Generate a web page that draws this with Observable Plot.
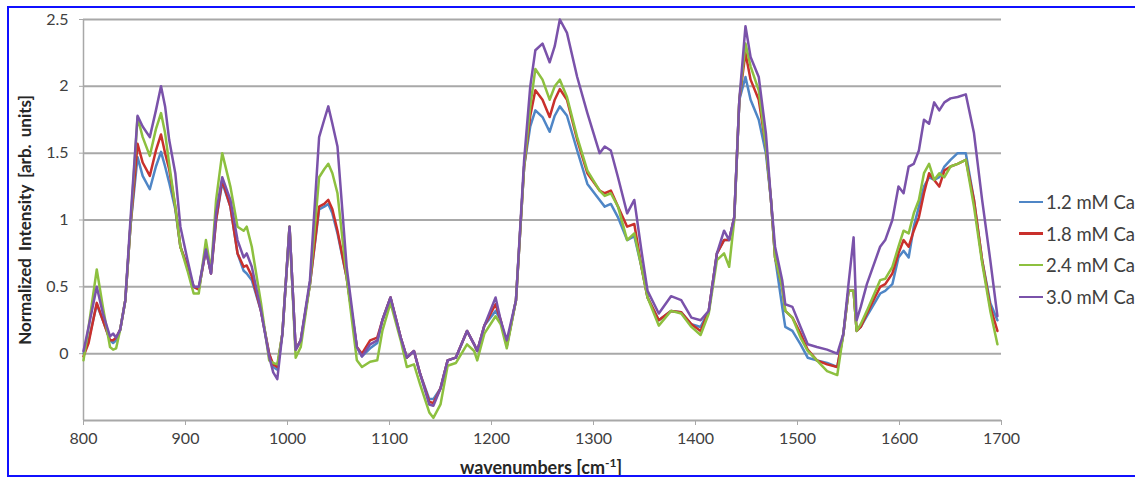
<!DOCTYPE html>
<html>
<head>
<meta charset="utf-8">
<script src="https://cdn.jsdelivr.net/npm/d3@7"></script>
<script src="https://cdn.jsdelivr.net/npm/@observablehq/plot@0.6"></script>
<style>
  html, body { margin: 0; padding: 0; background: #fff; overflow: hidden; }
  #wrap { position: relative; width: 1135px; height: 482px; overflow: hidden; font-family: Lato, "Open Sans", sans-serif; }
  #border { position: absolute; left: 7px; top: 6px; width: 1150px; height: 471px; border: 2px solid #1010ff; box-sizing: border-box; pointer-events: none; }
  #chart { position: absolute; left: 0; top: 0; }
  .title { position: absolute; font-weight: bold; color: #262626; white-space: nowrap; }
  #ytitle { left: 24px; top: 220px; font-size: 17px; transform: translate(-50%, -50%) rotate(-90deg); word-spacing: 3px; }
  #xtitle { left: 541px; top: 466px; font-size: 18px; transform: translate(-50%, -50%); }
  #legend { position: absolute; left: 1019px; top: 186px; }
  .item { display: flex; align-items: center; height: 31.7px; font-size: 18.5px; color: #404040; white-space: nowrap; }
  .sw { width: 24px; height: 2.5px; margin-right: 3px; }
</style>
</head>
<body>
<div id="wrap">
  <div id="chart"></div>
  <div id="ytitle" class="title">Normalized Intensity [arb. units]</div>
  <div id="xtitle" class="title">wavenumbers [cm<sup style="font-size:12px">-1</sup>]</div>
  <div id="legend"></div>
  <div id="border"></div>
</div>
<script>
const seriesNames = ["1.2 mM Ca", "1.8 mM Ca", "2.4 mM Ca", "3.0 mM Ca"];
const seriesColors = ["#4f86c6", "#c9302c", "#8dc03f", "#7a52aa"];
const xTicks = [800, 900, 1000, 1100, 1200, 1300, 1400, 1500, 1600, 1700];
const yTicks = [0, 0.5, 1, 1.5, 2, 2.5];
const yGrid = [-0.5, 0, 0.5, 1, 1.5, 2, 2.5];

const wn = [800,805,813,819,826,829,832,836,841,846,853,858,865,871,876,880,884,890,895,902,908,913,920,925,930,936,944,951,957,960,965,974,982,986,990,995,1002,1008,1013,1022,1031,1036,1040,1044,1049,1058,1068,1073,1081,1088,1093,1101,1111,1117,1124,1130,1139,1143,1150,1157,1165,1176,1183,1186,1193,1204,1209,1215,1224,1232,1238,1243,1250,1257,1262,1267,1274,1284,1294,1306,1311,1317,1324,1333,1340,1347,1353,1364,1376,1386,1396,1405,1413,1421,1428,1433,1438,1443,1449,1454,1462,1469,1474,1478,1485,1488,1495,1503,1510,1519,1529,1539,1545,1550,1555,1558,1562,1568,1581,1586,1593,1599,1604,1609,1614,1619,1624,1629,1634,1639,1644,1650,1657,1665,1673,1681,1689,1696];

const ca12 = [0.00,0.10,0.37,0.25,0.10,0.08,0.10,0.18,0.40,0.95,1.47,1.33,1.23,1.40,1.51,1.40,1.28,1.08,0.80,0.65,0.50,0.48,0.78,0.60,1.00,1.28,1.10,0.75,0.62,0.60,0.55,0.32,0.00,-0.10,-0.12,0.15,0.95,0.03,0.10,0.52,1.08,1.10,1.12,1.05,0.90,0.57,0.05,-0.02,0.04,0.08,0.25,0.42,0.12,-0.03,0.02,-0.15,-0.34,-0.34,-0.26,-0.05,-0.03,0.17,0.07,0.02,0.21,0.32,0.25,0.06,0.40,1.40,1.70,1.82,1.77,1.66,1.78,1.85,1.78,1.52,1.27,1.15,1.10,1.12,1.02,0.85,0.88,0.65,0.42,0.25,0.32,0.31,0.22,0.20,0.32,0.75,0.85,0.85,1.02,1.90,2.07,1.90,1.75,1.50,1.15,0.72,0.35,0.20,0.17,0.07,-0.03,-0.05,-0.07,-0.10,0.15,0.47,0.47,0.17,0.20,0.28,0.45,0.47,0.52,0.72,0.77,0.72,0.95,1.10,1.25,1.32,1.30,1.32,1.40,1.45,1.50,1.50,1.15,0.70,0.38,0.25];

const ca18 = [-0.02,0.08,0.38,0.25,0.10,0.10,0.12,0.18,0.40,0.95,1.57,1.43,1.33,1.52,1.64,1.50,1.38,1.10,0.80,0.65,0.50,0.48,0.78,0.60,1.00,1.30,1.10,0.75,0.65,0.66,0.58,0.32,0.00,-0.08,-0.10,0.15,0.95,0.03,0.10,0.52,1.10,1.12,1.15,1.08,0.92,0.57,0.05,0.00,0.10,0.12,0.25,0.42,0.12,-0.03,0.02,-0.15,-0.36,-0.37,-0.26,-0.05,-0.03,0.17,0.07,0.02,0.21,0.37,0.25,0.06,0.40,1.40,1.78,1.97,1.90,1.77,1.90,1.98,1.90,1.60,1.35,1.22,1.20,1.22,1.10,0.95,0.97,0.65,0.42,0.25,0.32,0.31,0.22,0.17,0.32,0.75,0.85,0.85,1.02,1.90,2.25,2.05,1.90,1.55,1.15,0.72,0.50,0.32,0.27,0.15,0.03,-0.05,-0.08,-0.10,0.15,0.47,0.47,0.17,0.20,0.30,0.50,0.52,0.60,0.75,0.85,0.80,0.92,1.02,1.20,1.35,1.30,1.25,1.37,1.40,1.42,1.45,1.15,0.70,0.35,0.17];

const ca24 = [-0.05,0.20,0.63,0.35,0.05,0.03,0.04,0.18,0.40,0.95,1.77,1.62,1.48,1.68,1.80,1.65,1.42,1.10,0.80,0.62,0.45,0.45,0.85,0.62,1.15,1.50,1.25,0.95,0.92,0.95,0.80,0.38,-0.05,-0.07,-0.08,0.15,0.95,-0.03,0.05,0.52,1.32,1.38,1.42,1.35,1.20,0.57,-0.05,-0.10,-0.06,-0.05,0.17,0.38,0.10,-0.10,-0.08,-0.23,-0.44,-0.48,-0.38,-0.09,-0.07,0.07,0.02,-0.05,0.15,0.28,0.22,0.04,0.40,1.40,1.85,2.13,2.05,1.90,2.00,2.05,1.92,1.62,1.37,1.22,1.18,1.20,1.10,0.85,0.90,0.65,0.42,0.21,0.32,0.30,0.20,0.14,0.30,0.70,0.75,0.65,1.00,1.90,2.32,2.15,1.97,1.55,1.15,0.72,0.50,0.32,0.27,0.12,0.02,-0.05,-0.13,-0.16,0.15,0.47,0.47,0.17,0.22,0.32,0.55,0.56,0.65,0.80,0.92,0.90,1.05,1.15,1.35,1.42,1.30,1.35,1.32,1.40,1.42,1.45,1.10,0.68,0.32,0.07];

const ca30 = [0.02,0.20,0.50,0.30,0.13,0.15,0.12,0.18,0.40,1.00,1.78,1.70,1.62,1.82,2.00,1.85,1.60,1.35,0.95,0.70,0.50,0.50,0.78,0.60,1.05,1.32,1.15,0.85,0.72,0.75,0.65,0.32,-0.02,-0.14,-0.19,0.15,0.95,0.03,0.10,0.55,1.62,1.75,1.85,1.72,1.55,0.65,0.05,-0.02,0.07,0.10,0.25,0.42,0.12,-0.03,0.02,-0.15,-0.38,-0.39,-0.26,-0.05,-0.03,0.17,0.07,0.02,0.21,0.42,0.25,0.10,0.40,1.45,2.00,2.27,2.32,2.18,2.30,2.50,2.40,2.07,1.80,1.50,1.55,1.52,1.32,1.05,1.15,0.77,0.47,0.30,0.43,0.40,0.27,0.25,0.32,0.75,0.92,0.85,1.02,1.90,2.45,2.22,2.07,1.65,1.15,0.80,0.55,0.37,0.35,0.20,0.07,0.05,0.03,0.00,0.15,0.52,0.87,0.25,0.35,0.52,0.80,0.85,1.00,1.25,1.20,1.40,1.42,1.52,1.75,1.72,1.88,1.82,1.88,1.91,1.92,1.94,1.65,1.15,0.70,0.28];

const seriesValues = [ca12, ca18, ca24, ca30];
const data = seriesNames.flatMap((name, k) => wn.map((w, i) => ({w, v: seriesValues[k][i], s: name})));

const chart = Plot.plot({
  width: 1135,
  height: 482,
  marginLeft: 83,
  marginRight: 134,
  marginTop: 19,
  marginBottom: 62,
  style: {fontFamily: "Lato, 'Open Sans', sans-serif", fontSize: "16px", color: "#404040", background: "transparent"},
  x: {domain: [800, 1700]},
  y: {domain: [-0.5, 2.5]},
  color: {domain: seriesNames, range: seriesColors},
  marks: [
    Plot.gridY(yGrid, {stroke: "#a8a8a8", strokeOpacity: 1, strokeWidth: 2}),
    Plot.ruleX([800], {stroke: "#a8a8a8", strokeWidth: 1.5}),
    Plot.axisY(yTicks, {tickSize: 4, tickPadding: 11, label: null, stroke: "#a8a8a8", tickFormat: d => String(d)}),
    Plot.axisX(xTicks, {tickSize: 5, tickPadding: 7, label: null, stroke: "#a8a8a8", tickFormat: d => String(d)}),
    Plot.line(data, {x: "w", y: "v", z: "s", stroke: "s", strokeWidth: 2.5, strokeLinejoin: "round"})
  ]
});
document.getElementById("chart").appendChild(chart);

const legend = document.getElementById("legend");
seriesNames.forEach((name, k) => {
  const item = document.createElement("div");
  item.className = "item";
  const sw = document.createElement("div");
  sw.className = "sw";
  sw.style.background = seriesColors[k];
  const label = document.createElement("span");
  label.textContent = name;
  item.appendChild(sw);
  item.appendChild(label);
  legend.appendChild(item);
});
</script>
</body>
</html>
